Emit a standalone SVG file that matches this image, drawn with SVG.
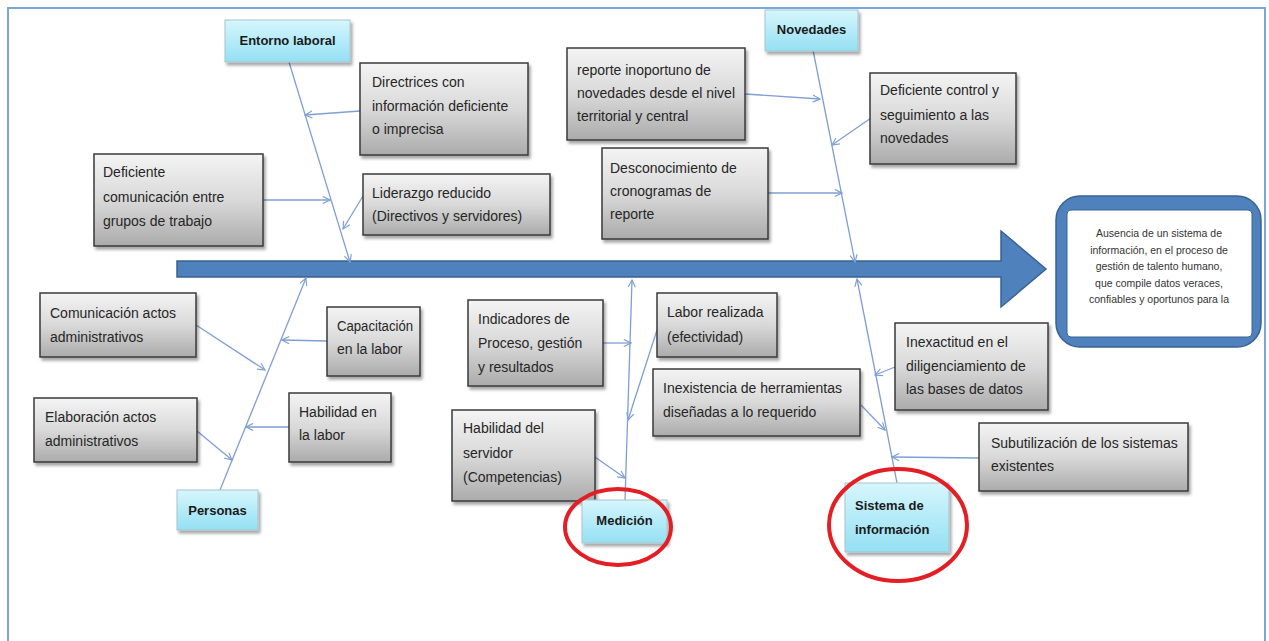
<svg xmlns="http://www.w3.org/2000/svg" width="1269" height="641" viewBox="0 0 1269 641">
<defs>
<linearGradient id="gGray" x1="0" y1="0" x2="0" y2="1">
<stop offset="0" stop-color="#f4f4f4"/>
<stop offset="0.5" stop-color="#d9d9d9"/>
<stop offset="1" stop-color="#ababab"/>
</linearGradient>
<linearGradient id="gCyan" x1="0" y1="0" x2="0" y2="1">
<stop offset="0" stop-color="#d6f6fd"/>
<stop offset="1" stop-color="#94e0f3"/>
</linearGradient>
<filter id="sh" x="-10%" y="-10%" width="130%" height="140%">
<feDropShadow dx="2" dy="3" stdDeviation="1.5" flood-color="#000" flood-opacity="0.35"/>
</filter>
<marker id="ah" viewBox="0 0 10 10" refX="9" refY="5" markerWidth="9" markerHeight="9" orient="auto" markerUnits="userSpaceOnUse">
<path d="M1,1 L9,5 L1,9" fill="none" stroke="#7f9fd3" stroke-width="1.3"/>
</marker>
</defs>
<style>
.box{fill:url(#gGray);stroke:#3a3a3a;stroke-width:1.5;filter:url(#sh)}
.cat{fill:url(#gCyan);stroke:#a9c4cc;stroke-width:1;filter:url(#sh)}
.t{font-family:"Liberation Sans",Arial,sans-serif;font-size:14px;fill:#262626}
.b{font-family:"Liberation Sans",Arial,sans-serif;font-size:13px;font-weight:bold;fill:#1a1a1a}
.e{font-family:"Liberation Sans",Arial,sans-serif;font-size:10.5px;fill:#333;text-anchor:middle}
.sub{stroke:#7f9fd3;stroke-width:1.3;fill:none;marker-end:url(#ah)}
.ring{fill:none;stroke:#e31e24;stroke-width:4}
</style>
<rect width="1269" height="641" fill="#ffffff"/>
<path d="M8,641 V8 H1265 V641" fill="none" stroke="#7aa6dc" stroke-width="2"/>

<g id="spine">
<polygon points="177,261 1001,261 1001,231 1046,269 1001,307 1001,277 177,277" fill="#4f81bd" stroke="#3a6294" stroke-width="1.5"/>
</g>

<g id="connectors">
<line class="sub" x1="289" y1="62" x2="350" y2="262"/>
<line class="sub" x1="220" y1="490" x2="306" y2="278"/>
<line class="sub" x1="625" y1="500" x2="632" y2="280"/>
<line class="sub" x1="813" y1="50" x2="855" y2="262"/>
<line class="sub" x1="897" y1="483" x2="857" y2="279"/>
<line class="sub" x1="360" y1="111" x2="305" y2="115"/>
<line class="sub" x1="263" y1="200" x2="330" y2="200"/>
<line class="sub" x1="363" y1="196" x2="343" y2="229"/>
<line class="sub" x1="745" y1="94" x2="820" y2="99"/>
<line class="sub" x1="871" y1="118" x2="832" y2="145"/>
<line class="sub" x1="768" y1="193" x2="842" y2="193"/>
<line class="sub" x1="196" y1="325" x2="265" y2="370"/>
<line class="sub" x1="327" y1="341" x2="282" y2="340"/>
<line class="sub" x1="197" y1="431" x2="232" y2="460"/>
<line class="sub" x1="289" y1="427" x2="246" y2="427"/>
<line class="sub" x1="603" y1="343" x2="631" y2="343"/>
<line class="sub" x1="657" y1="330" x2="628" y2="420"/>
<line class="sub" x1="595" y1="457" x2="625" y2="478"/>
<line class="sub" x1="895" y1="367" x2="875" y2="375"/>
<line class="sub" x1="861" y1="405" x2="885" y2="430"/>
<line class="sub" x1="979" y1="458" x2="892" y2="457"/>
</g>

<g id="n-entorno">
<rect class="cat" x="225" y="20" width="125" height="42"/>
<text class="b" x="287.5" y="45" text-anchor="middle">Entorno laboral</text>
</g>
<g id="n-directrices">
<rect class="box" x="360" y="63" width="168" height="92"/>
<text class="t" x="372" y="87">Directrices con</text>
<text class="t" x="372" y="111">información deficiente</text>
<text class="t" x="372" y="134">o imprecisa</text>
</g>
<g id="n-defcom">
<rect class="box" x="94" y="154" width="169" height="92"/>
<text class="t" x="103" y="177">Deficiente</text>
<text class="t" x="103" y="202">comunicación entre</text>
<text class="t" x="103" y="226">grupos de trabajo</text>
</g>
<g id="n-liderazgo">
<rect class="box" x="363" y="174" width="187" height="61"/>
<text class="t" x="372" y="198">Liderazgo reducido</text>
<text class="t" x="372" y="221">(Directivos y servidores)</text>
</g>
<g id="n-reporte">
<rect class="box" x="567" y="48" width="178" height="92"/>
<text class="t" x="577" y="75">reporte inoportuno de</text>
<text class="t" x="577" y="98">novedades desde el nivel</text>
<text class="t" x="577" y="121">territorial y central</text>
</g>
<g id="n-desconoc">
<rect class="box" x="602" y="148" width="166" height="91"/>
<text class="t" x="610" y="173">Desconocimiento de</text>
<text class="t" x="610" y="196">cronogramas de</text>
<text class="t" x="610" y="219">reporte</text>
</g>
<g id="n-novedades">
<rect class="cat" x="765" y="10" width="93" height="41"/>
<text class="b" x="811.5" y="34" text-anchor="middle">Novedades</text>
</g>
<g id="n-defcontrol">
<rect class="box" x="870" y="73" width="146" height="91"/>
<text class="t" x="880" y="95">Deficiente control y</text>
<text class="t" x="880" y="120">seguimiento a las</text>
<text class="t" x="880" y="143">novedades</text>
</g>
<g id="n-efecto">
<rect x="1056" y="196" width="205" height="151" rx="24" fill="#4f81bd" stroke="#3a6294" stroke-width="1.5"/>
<rect x="1067" y="210" width="185" height="127" rx="4" fill="#ffffff" stroke="#3a6294" stroke-width="1"/>
<text class="e" x="1159" y="237">Ausencia de un sistema de</text>
<text class="e" x="1159" y="253.5">información, en el proceso de</text>
<text class="e" x="1159" y="270">gestión de talento humano,</text>
<text class="e" x="1159" y="286.5">que compile datos veraces,</text>
<text class="e" x="1159" y="303">confiables y oportunos para la</text>
</g>
<g id="n-comactos">
<rect class="box" x="40" y="293" width="156" height="64"/>
<text class="t" x="50" y="318">Comunicación actos</text>
<text class="t" x="50" y="342">administrativos</text>
</g>
<g id="n-capacit">
<rect class="box" x="327" y="307" width="93" height="69"/>
<text class="t" x="337" y="331" textLength="76" lengthAdjust="spacingAndGlyphs">Capacitación</text>
<text class="t" x="337" y="354">en la labor</text>
</g>
<g id="n-elaboracion">
<rect class="box" x="34" y="398" width="163" height="64"/>
<text class="t" x="45" y="422">Elaboración actos</text>
<text class="t" x="45" y="446">administrativos</text>
</g>
<g id="n-habilidad">
<rect class="box" x="289" y="393" width="102" height="69"/>
<text class="t" x="299" y="417">Habilidad en</text>
<text class="t" x="299" y="440">la labor</text>
</g>
<g id="n-personas">
<rect class="cat" x="177" y="490" width="81" height="40"/>
<text class="b" x="217.5" y="515" text-anchor="middle">Personas</text>
</g>
<g id="n-indicadores">
<rect class="box" x="468" y="300" width="135" height="86"/>
<text class="t" x="478" y="324">Indicadores de</text>
<text class="t" x="478" y="348">Proceso, gestión</text>
<text class="t" x="478" y="372">y resultados</text>
</g>
<g id="n-labor">
<rect class="box" x="657" y="293" width="120" height="64"/>
<text class="t" x="667" y="317">Labor realizada</text>
<text class="t" x="667" y="342">(efectividad)</text>
</g>
<g id="n-inexistencia">
<rect class="box" x="653" y="369" width="207" height="67"/>
<text class="t" x="663" y="393">Inexistencia de herramientas</text>
<text class="t" x="663" y="417">diseñadas a lo requerido</text>
</g>
<g id="n-habserv">
<rect class="box" x="452" y="410" width="143" height="91"/>
<text class="t" x="463" y="433">Habilidad del</text>
<text class="t" x="463" y="458">servidor</text>
<text class="t" x="463" y="482">(Competencias)</text>
</g>
<g id="n-medicion">
<rect class="cat" x="582" y="500" width="85" height="43"/>
<text class="b" x="624.5" y="525" text-anchor="middle">Medición</text>
</g>
<g id="n-inexactitud">
<rect class="box" x="895" y="323" width="153" height="87"/>
<text class="t" x="906" y="347">Inexactitud en el</text>
<text class="t" x="906" y="371">diligenciamiento de</text>
<text class="t" x="906" y="394">las bases de datos</text>
</g>
<g id="n-subutil">
<rect class="box" x="979" y="423" width="209" height="68"/>
<text class="t" x="991" y="448">Subutilización de los sistemas</text>
<text class="t" x="991" y="471">existentes</text>
</g>
<g id="n-sistema">
<rect class="cat" x="845" y="483" width="104" height="69"/>
<text class="b" x="855" y="510">Sistema de</text>
<text class="b" x="855" y="534">información</text>
</g>
<g id="highlights">
<ellipse class="ring" cx="618" cy="527" rx="53" ry="38"/>
<ellipse class="ring" cx="898" cy="525" rx="69" ry="56"/>
</g>
</svg>
